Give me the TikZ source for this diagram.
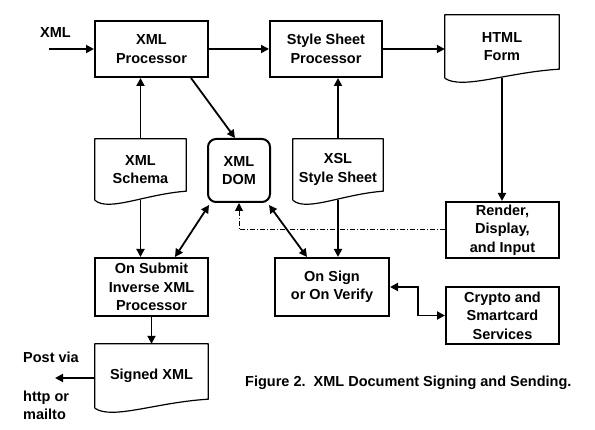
\documentclass[tikz,border=0pt]{standalone}
\usepackage{fontspec}
\setmainfont{Liberation Sans}
\usetikzlibrary{arrows.meta,calc}
\tikzset{
  base/.style={font=\fontsize{14.5}{18.5}\selectfont\bfseries, align=center, inner sep=0pt},
  box/.style={base, draw, line width=2pt},
  doc/.style={base},
  domb/.style={base, draw, line width=2pt, rounded corners=8pt},
  arr/.style={line width=1.8pt, -{Triangle[length=8pt,width=8pt]}},
  darr/.style={line width=1.8pt, {Triangle[length=8pt,width=8pt]}-{Triangle[length=8pt,width=8pt]}},
  dotline/.style={line width=1pt, dash pattern=on 5pt off 2pt on 1pt off 2pt, -{Triangle[length=8pt,width=8pt]}},
  docline/.style={line width=1.2pt, line join=round},
  lbl/.style={font=\fontsize{14.5}{18.5}\selectfont\bfseries, inner sep=0pt, anchor=base west, align=left}
}
\newcommand{\docshape}[2]{%
  \draw[docline] (#1.south west) -- (#1.north west) -- (#1.north east) -- ($(#1.south east)+(0,-9)$)
    .. controls ($(#1.south west)+(0.55*#2,-6)$) and ($(#1.south west)+(0.15*#2,12)$) .. (#1.south west);}
\begin{document}
\begin{tikzpicture}[x=1pt,y=-1pt]
\useasboundingbox (0,0) rectangle (595,430);
% boxes
\node[box, minimum width=113pt, minimum height=56pt] (proc) at (151.5,49) {XML\\Processor};
\node[box, minimum width=112pt, minimum height=56pt] (ssp) at (326,49) {Style Sheet\\Processor};
\node[doc, minimum width=114pt, minimum height=63pt] (html) at (502,46.5) {HTML\\Form};
\node[doc, minimum width=91pt, minimum height=61pt] (schema) at (140.5,169.5) {XML\\Schema};
\node[domb, minimum width=62pt, minimum height=63pt] (dom) at (239,170.5) {XML\\DOM};
\node[doc, minimum width=90pt, minimum height=61pt] (xsl) at (338,169.5) {XSL\\Style Sheet};
\node[box, minimum width=113pt, minimum height=56pt] (render) at (502.5,230) {Render,\\Display,\\and Input};
\node[box, minimum width=113pt, minimum height=58pt] (submit) at (151.5,287) {On Submit\\Inverse XML\\Processor};
\node[box, minimum width=114pt, minimum height=58pt] (sign) at (332,287) {On Sign\\or On Verify};
\node[box, minimum width=113pt, minimum height=57pt] (crypto) at (502.5,315.5) {Crypto and\\Smartcard\\Services};
\node[doc, minimum width=113pt, minimum height=64pt] (signed) at (151.5,376) {Signed XML};
\docshape{html}{114}
\docshape{schema}{91}
\docshape{xsl}{90}
\docshape{signed}{113}
% labels
\node[lbl] (xmllbl) at (40,38) {XML};
\node[lbl] (postlbl) at (23,363) {Post via};
\node[lbl] (httplbl) at (23,420) {http or\\mailto};
\node[lbl] (caption) at (245,387) {Figure 2.\ \ XML Document Signing and Sending.};
% connectors
\coordinate (xmlin) at (49,49);
\coordinate (post) at (55,378);
\draw[arr] (xmlin) -- (proc.west);
\draw[arr] (proc.east) -- (ssp.west);
\draw[arr] (ssp.east) -- (ssp.east -| html.west);
\draw[arr] (schema.north) -- (schema.north |- proc.south);
\draw[arr] (schema.south) -- (schema.south |- submit.north);
\draw[arr] ([xshift=-18pt]proc.south east) -- ([xshift=-4pt]dom.north);
\draw[arr] (xsl.north) -- (xsl.north |- ssp.south);
\draw[arr] (xsl.south) -- (xsl.south |- sign.north);
\draw[arr] (html.south) -- (html.south |- render.north);
\draw[darr] ([xshift=23.5pt]submit.north) -- ([shift={(2pt,-2pt)}]dom.south west);
\draw[darr] ([shift={(-2pt,-2pt)}]dom.south east) -- ([xshift=-25pt]sign.north);
\draw[dotline] (render.west) -- (render.west -| dom.south) -- (dom.south);
\draw[darr] (sign.east) -- ++(28,0) |- (crypto.west);
\draw[arr] (submit.south) -- (signed.north);
\draw[arr] (signed.west |- post) -- (post);
\end{tikzpicture}
\end{document}
